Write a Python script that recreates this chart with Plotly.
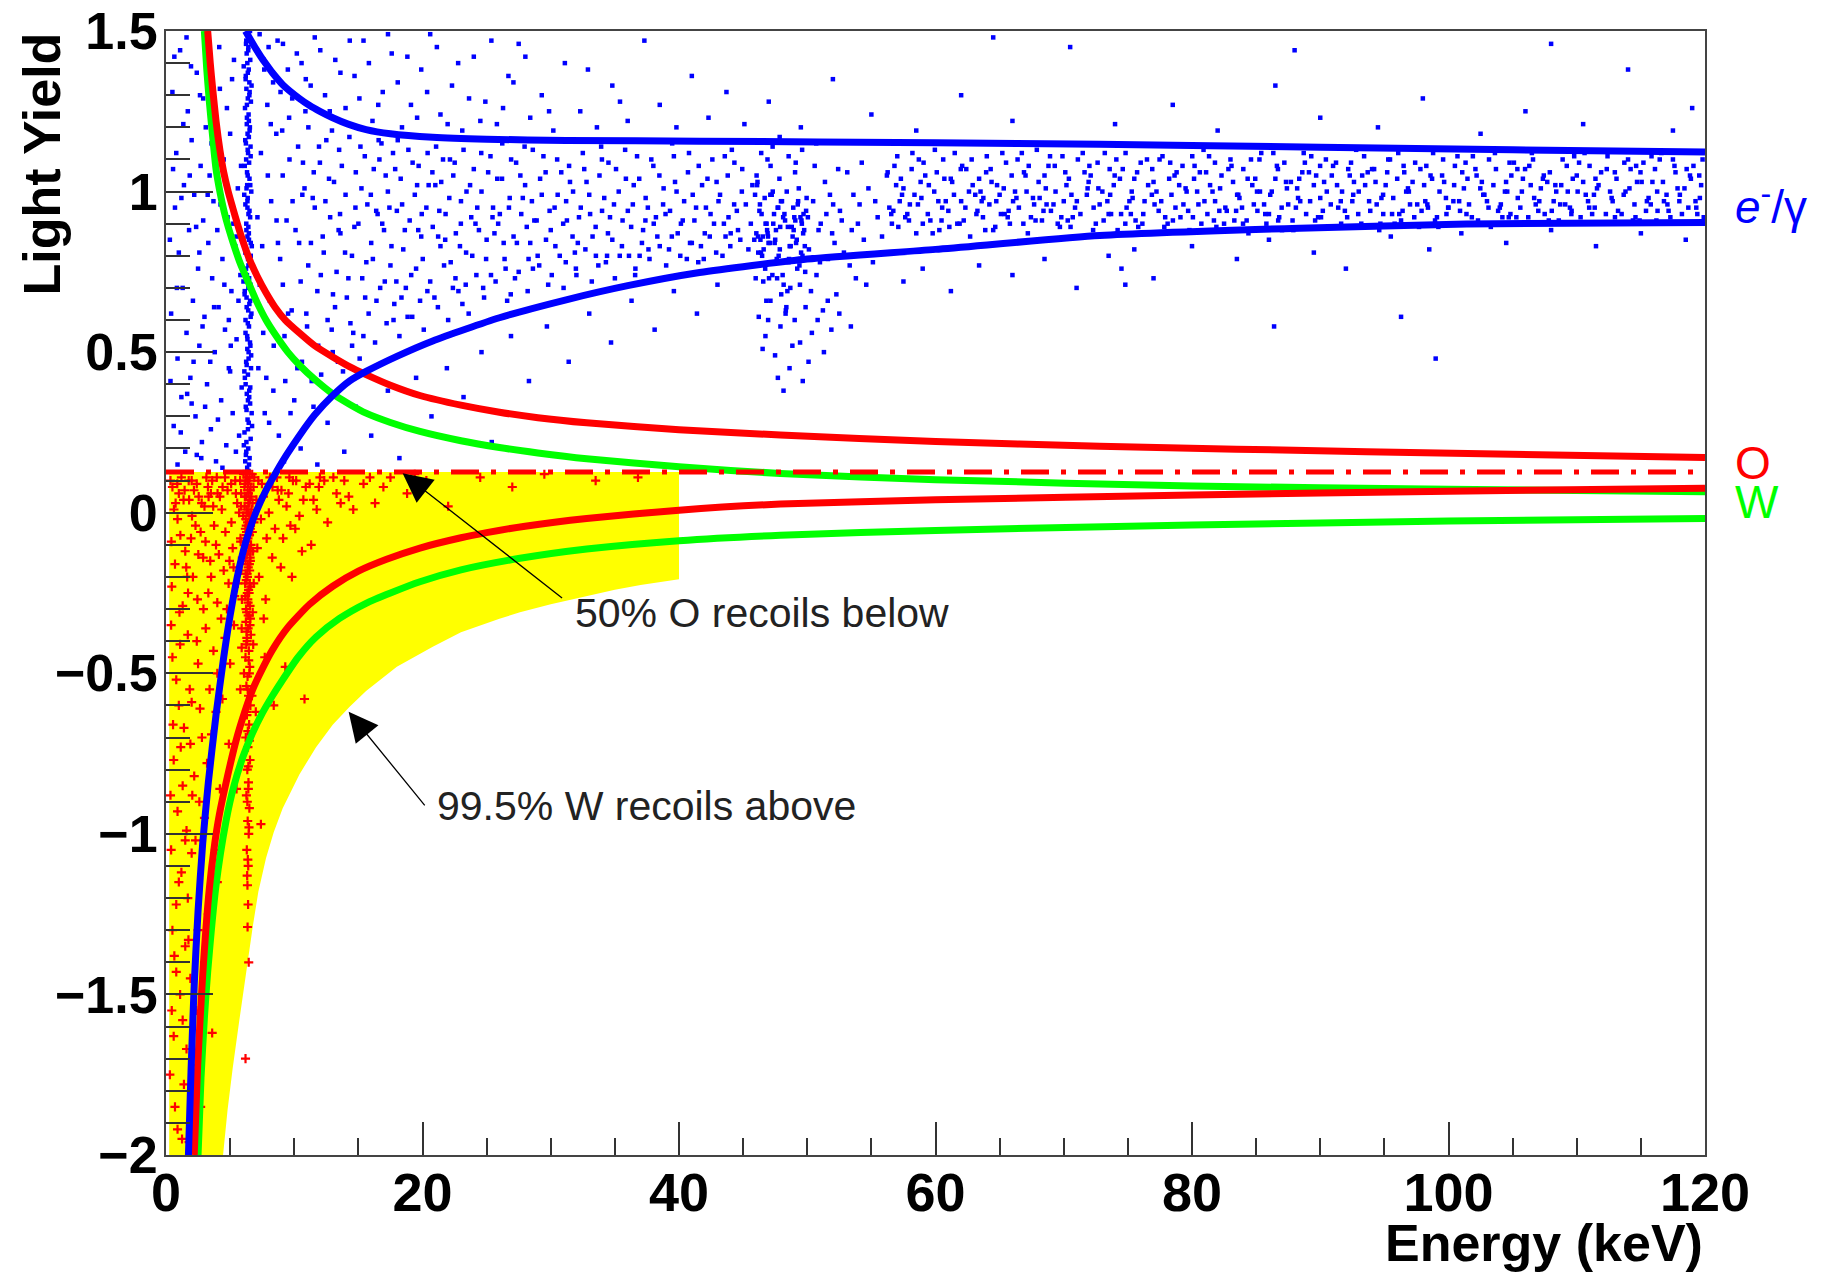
import plotly.graph_objects as go

# ---------------- data ----------------
X_RANGE = [0, 120]
Y_RANGE = [-2, 1.5]
CUT_Y = 0.127          # dash-dotted acceptance line

# e-/gamma band limits (blue)
EG_UP_X = [6.2, 6.6, 7.0, 7.4, 7.8, 8.3, 9.1, 10.4, 11.2, 12.0, 13.0, 14.2, 15.6, 17.5, 20.8, 25.0, 31.2, 41.6, 60.0, 72.8, 90.0, 105.0, 120.0]
EG_UP_Y = [1.50, 1.472, 1.445, 1.42, 1.397, 1.37, 1.333, 1.29, 1.268, 1.25, 1.23, 1.21, 1.193, 1.18, 1.169, 1.163, 1.159, 1.157, 1.152, 1.147, 1.138, 1.13, 1.123]
EG_LO_X = [1.75, 1.95, 2.2, 2.5, 2.86, 3.3, 3.9, 4.5, 5.0, 5.72, 6.3, 7.0, 7.8, 8.6, 9.4, 10.4, 11.6, 13.0, 14.3, 15.6, 18.0, 20.8, 26.0, 31.2, 36.0, 41.6, 50.0, 60.0, 72.8, 88.4, 101.4, 120.0]
EG_LO_Y = [-2.0, -1.74, -1.47, -1.24, -1.03, -0.84, -0.63, -0.45, -0.32, -0.17, -0.08, 0.0, 0.07, 0.127, 0.18, 0.24, 0.305, 0.365, 0.41, 0.44, 0.487, 0.535, 0.607, 0.663, 0.707, 0.748, 0.79, 0.82, 0.863, 0.886, 0.899, 0.904]

# O recoil band limits (red)
O_UP_X = [3.25, 3.45, 3.64, 3.9, 4.2, 4.5, 4.85, 5.2, 5.6, 6.0, 6.5, 7.1, 7.8, 8.5, 9.3, 10.4, 11.6, 13.0, 14.3, 15.6, 17.5, 19.8, 23.0, 26.0, 29.0, 32.8, 40.0, 47.9, 60.0, 72.8, 93.6, 120.0]
O_UP_Y = [1.5, 1.40, 1.32, 1.22, 1.13, 1.06, 1.0, 0.95, 0.895, 0.845, 0.79, 0.737, 0.685, 0.64, 0.6, 0.56, 0.52, 0.485, 0.455, 0.43, 0.397, 0.365, 0.335, 0.313, 0.296, 0.28, 0.258, 0.242, 0.222, 0.207, 0.19, 0.172]
O_LO_X = [2.2, 2.47, 2.86, 3.38, 3.8, 4.16, 4.8, 5.46, 6.1, 6.76, 7.5, 8.3, 9.5, 11.2, 13.0, 15.0, 17.2, 19.8, 23.0, 25.0, 28.0, 32.8, 40.0, 47.9, 60.0, 80.0, 100.0, 120.0]
O_LO_Y = [-2.0, -1.72, -1.44, -1.17, -1.03, -0.94, -0.82, -0.71, -0.625, -0.55, -0.487, -0.427, -0.357, -0.285, -0.229, -0.182, -0.145, -0.11, -0.078, -0.062, -0.042, -0.018, 0.008, 0.027, 0.04, 0.055, 0.067, 0.076]

# W recoil band limits (green)
W_UP_X = [2.99, 3.18, 3.38, 3.64, 3.9, 4.2, 4.55, 4.85, 5.2, 5.8, 6.5, 7.1, 7.8, 8.6, 9.5, 10.4, 11.6, 13.0, 14.3, 15.6, 17.5, 19.8, 23.0, 26.0, 29.0, 32.8, 40.0, 47.9, 60.0, 80.0, 100.0, 120.0]
W_UP_Y = [1.5, 1.38, 1.28, 1.17, 1.07, 1.0, 0.935, 0.89, 0.845, 0.775, 0.71, 0.655, 0.6, 0.55, 0.5, 0.46, 0.415, 0.37, 0.338, 0.31, 0.281, 0.253, 0.224, 0.203, 0.186, 0.168, 0.143, 0.122, 0.103, 0.083, 0.073, 0.065]
W_LO_X = [2.5, 2.73, 3.0, 3.25, 3.9, 4.68, 5.3, 6.0, 6.7, 7.5, 8.3, 9.1, 10.3, 11.7, 13.5, 15.6, 17.5, 19.8, 23.0, 27.6, 32.8, 40.0, 47.9, 60.0, 80.0, 100.0, 120.0]
W_LO_Y = [-2.0, -1.76, -1.57, -1.43, -1.16, -0.96, -0.85, -0.76, -0.69, -0.625, -0.57, -0.52, -0.45, -0.387, -0.33, -0.282, -0.25, -0.215, -0.178, -0.142, -0.113, -0.087, -0.07, -0.055, -0.038, -0.026, -0.018]

# yellow acceptance region: lower boundary (right to left)
ACC_X_LEFT = 0.25
ACC_X_RIGHT = 40.0
ACC_LO_X = [40.0, 37.0, 35.0, 32.8, 30.0, 27.6, 26.0, 23.0, 20.8, 18.0, 15.6, 14.3, 13.0, 11.7, 10.4, 9.1, 8.4, 7.8, 7.2, 6.76, 6.2, 5.72, 5.2, 4.8, 4.45]
ACC_LO_Y = [-0.207, -0.225, -0.24, -0.26, -0.285, -0.31, -0.33, -0.372, -0.417, -0.48, -0.555, -0.605, -0.66, -0.73, -0.815, -0.92, -0.995, -1.075, -1.18, -1.29, -1.44, -1.58, -1.73, -1.86, -2.0]

# ---------------- events (estimated by eye) ----------------
BLUE_LOWX = [(0.4,0.62),(0.5,1.31),(0.6,0.27),(0.7,0.95),(0.8,1.12),(0.9,0.48),(1.0,0.81),(1.1,1.44),(1.2,0.36),(1.3,0.7),
    (1.4,1.02),(1.5,0.19),(1.6,0.56),(1.7,1.25),(1.8,0.88),(1.9,0.42),(2.0,1.16),(2.1,0.66),(2.2,0.99),(2.3,0.3),
    (2.4,1.37),(2.5,0.76),(2.6,0.52),(2.7,1.08),(2.8,0.22),(2.9,0.91),(3.0,0.61),(3.1,1.2),(3.2,0.4),(3.3,0.84),
    (3.4,1.05),(3.5,0.26),(3.6,0.73),(3.7,0.97),(3.8,0.5),(3.9,0.16),(4.0,0.88),(4.1,0.64),(4.2,1.32),(4.3,0.35),
    (4.4,0.79),(4.5,1.1),(4.6,0.57),(4.7,0.21),(4.8,0.92),(4.9,0.45),(5.0,1.18),(5.1,0.69),(5.2,0.31),(5.3,1.41),
    (5.4,0.83),(5.5,0.54),(5.6,1.01),(5.7,0.24),(5.8,0.74),(5.9,0.39),(0.9,0.15),(1.6,1.48),(2.4,0.18),(3.3,1.46),
    (4.4,0.14),(5.0,0.44),(0.3,0.85),(2.0,0.34),(2.9,1.29),(3.8,1.23),(4.9,0.6),(5.5,0.86),(1.2,0.98),(2.6,0.81),
    (0.35,0.41),(0.55,1.07),(0.85,0.7),(1.15,0.25),(1.35,1.21),(1.65,0.37),(1.85,1.05),(2.15,0.47),(2.35,0.89),(2.65,1.3),
    (2.85,0.58),(3.05,0.33),(3.25,0.99),(3.55,1.15),(3.75,0.64),(4.05,0.29),(4.25,0.96),(4.55,0.71),(4.75,1.26),(5.05,0.52),
    (5.25,0.9),(5.45,0.19),(5.65,0.66),(5.85,1.08),(0.65,1.42),(1.95,1.39),(3.45,0.47),(4.15,1.45),(5.15,1.35),(2.75,0.17)]

BLUE_VBAND = [(6.33,0.14),(6.18,0.16),(6.52,0.17),(6.41,0.2),(6.27,0.22),(6.6,0.23),(6.12,0.25),(6.45,0.28),(6.36,0.29),(6.68,0.31),
    (6.22,0.33),(6.49,0.36),(6.3,0.37),(6.57,0.39),(6.15,0.42),(6.39,0.43),(6.63,0.45),(6.25,0.47),(6.44,0.5),(6.34,0.51),
    (6.55,0.53),(6.2,0.56),(6.47,0.58),(6.38,0.59),(6.66,0.62),(6.29,0.64),(6.5,0.65),(6.13,0.68),(6.42,0.7),(6.58,0.71),
    (6.31,0.74),(6.24,0.76),(6.53,0.78),(6.4,0.79),(6.17,0.82),(6.61,0.84),(6.35,0.86),(6.46,0.87),(6.26,0.9),(6.56,0.92),
    (6.43,0.93),(6.19,0.96),(6.37,0.98),(6.65,1.0),(6.28,1.01),(6.51,1.04),(6.32,1.06),(6.14,1.08),(6.48,1.09),(6.4,1.12),
    (6.59,1.14),(6.23,1.15),(6.36,1.18),(6.54,1.2),(6.3,1.21),(6.44,1.24),(6.16,1.26),(6.62,1.28),(6.38,1.29),(6.27,1.32),
    (6.5,1.34),(6.21,1.35),(6.45,1.38),(6.34,1.4),(6.57,1.41),(6.41,1.44),(6.24,1.46),(6.53,1.47),(6.36,1.49),
    (6.47,0.15),(6.26,0.19),(6.39,0.26),(6.56,0.34),(6.21,0.4),(6.44,0.48),(6.33,0.55),(6.6,0.61),(6.28,0.67),(6.48,0.73),
    (6.19,0.81),(6.42,0.89),(6.35,0.95),(6.57,1.02),(6.25,1.1),(6.46,1.17),(6.31,1.23),(6.52,1.31),(6.38,1.37),(6.29,1.43),
    (6.07,0.21),(6.71,0.27),(6.28,0.32),(6.49,0.38),(6.11,0.44),(6.64,0.49),(6.35,0.54),(6.2,0.6),(6.56,0.66),(6.04,0.72),
    (6.43,0.77),(6.69,0.83),(6.27,0.88),(6.51,0.94),(6.1,0.99),(6.37,1.05),(6.6,1.11),(6.18,1.16),(6.46,1.22),(6.31,1.27),
    (6.67,1.33),(6.06,1.39),(6.42,1.45),(6.55,1.5),(6.23,0.18),(6.39,0.35),(6.58,0.52),(6.14,0.69),(6.47,0.85),(6.33,1.02),
    (6.52,1.19),(6.22,1.36),(6.44,0.13),(6.29,0.46),(6.61,0.8),(6.37,1.13),(6.26,1.47),(6.41,0.63),(6.35,0.97),(6.5,1.3)]

BLUE_BAND_LOW = [(7.2,0.45),(7.4,1.12),(7.5,0.83),(7.7,0.31),(7.9,1.27),(8.1,0.66),(8.2,0.97),(8.4,0.52),(8.6,1.18),(8.8,0.24),
    (8.9,0.79),(9.1,1.05),(9.3,0.41),(9.4,0.91),(9.6,1.23),(9.8,0.63),(10.0,0.35),(10.1,0.88),(10.3,1.14),(10.5,0.72),
    (10.6,0.47),(10.8,1.01),(11.0,0.58),(11.1,1.2),(11.3,0.84),(11.5,0.33),(11.6,0.95),(11.8,0.69),(12.0,1.09),(12.1,0.43),
    (12.3,0.81),(12.5,1.16),(12.6,0.6),(12.8,0.92),(13.0,0.5),(13.1,1.03),(13.3,0.75),(13.5,1.13),(13.6,0.87),(13.8,0.44),
    (14.0,0.99),(14.1,0.67),(14.3,1.17),(14.5,0.8),(14.6,0.56),(14.8,1.06),(15.0,0.9),(15.1,0.48),(15.3,0.73),(15.5,1.11),
    (15.7,0.96),(15.8,0.62),(16.0,0.84),(16.2,1.07),(16.3,0.53),(16.5,0.93),(16.7,0.7),(16.8,1.15),(17.0,0.88),(17.2,0.59),
    (17.3,1.0),(17.5,0.77),(17.7,1.12),(17.8,0.65),(18.0,0.94),(18.2,0.55),(18.3,1.04),(18.5,0.82),(18.7,0.7),(18.9,1.13),
    (19.0,0.91),(19.2,0.61),(19.4,0.99),(19.5,0.76),(19.7,1.08),(19.9,0.86),(20.1,0.57),(20.3,0.95),(20.4,1.12),(20.6,0.72),
    (20.8,0.89),(21.0,1.02),(21.2,0.64),(21.4,0.83),(21.6,1.1),(21.8,0.93),(22.0,0.6),(22.2,0.78),(22.4,1.05),(22.6,0.87),
    (22.8,0.69),(23.0,0.97),(23.2,1.13),(23.4,0.81),(23.6,0.62),(23.8,0.92),(24.0,1.07),(24.2,0.74),(24.4,0.88),(24.6,1.0),
    (24.8,0.67),(25.0,0.85),(25.3,1.11),(25.5,0.95),(25.7,0.72),(25.9,0.9),(26.2,1.04),(26.4,0.79),(26.6,0.66),(26.8,0.98),
    (27.1,0.86),(27.3,1.09),(27.5,0.75),(27.7,0.93),(28.0,1.02),(28.2,0.69),(28.4,0.84),(28.6,1.13),(28.9,0.91),(29.1,0.77),
    (29.3,0.99),(29.6,1.06),(29.8,0.71),(30.0,0.88),(30.3,0.95),(30.5,1.1),(30.7,0.8),(31.0,0.7),(31.2,0.97),(31.5,1.03),
    (31.7,0.86),(32.0,0.74),(32.2,0.92),(32.5,1.12),(32.7,0.82),(33.0,0.99),(33.2,0.72),(33.5,0.89),(33.8,1.05),(34.0,0.94),
    (34.3,0.78),(34.5,1.09),(34.8,0.85),(35.0,0.73),(35.3,1.0),(35.6,0.91),(35.8,1.13),(36.1,0.8),(36.4,0.96),(36.6,0.76),
    (36.9,1.04),(37.2,0.88),(37.4,0.98),(37.7,0.79),(38.0,1.08),(38.2,0.92),(38.5,0.83),(38.8,1.01),(39.0,0.77),(39.3,0.94),
    (39.6,1.11),(39.9,0.87),(40.1,0.8),(40.4,0.97),(40.7,1.06),(41.0,0.84),(41.2,0.91),(41.5,0.78),(41.8,1.02),(42.1,0.95),
    (42.4,0.86),(42.6,1.1),(42.9,0.81),(43.2,0.99),(43.5,0.9),(43.8,1.05),(44.0,0.83),(44.3,0.96),(44.6,0.88),(44.9,1.0),
    (7.13,0.92),(7.58,0.56),(7.94,1.05),(8.37,0.38),(8.73,0.84),(9.06,1.19),(9.52,0.62),(9.87,0.97),(10.24,0.45),(10.68,1.09),
    (11.09,0.77),(11.44,0.98),(11.87,0.52),(12.22,0.86),(12.71,1.04),(13.18,0.64),(13.57,0.93),(13.96,0.81),(14.38,0.59),(14.77,0.95),
    (15.16,1.14),(15.62,0.78),(15.97,0.99),(16.41,0.66),(16.86,0.9),(17.13,1.05),(17.58,0.83),(17.96,0.72),(18.41,0.96),(18.84,0.61),
    (19.23,1.09),(19.67,0.88),(20.02,0.79),(20.48,1.02),(20.93,0.67),(21.31,0.94),(21.77,0.85),(22.14,1.1),(22.57,0.73),(22.99,0.9),
    (23.43,1.0),(23.88,0.8),(24.27,0.95),(24.73,0.7),(25.12,1.06),(25.61,0.87),(26.03,0.93),(26.48,0.76),(26.91,1.1),(27.36,0.84),
    (27.82,0.98),(28.27,0.79),(28.72,0.91),(29.17,1.04),(29.63,0.85),(30.08,0.74),(30.54,0.99),(30.97,0.9),(31.43,1.08),(31.88,0.81),
    (32.34,0.95),(32.79,1.03),(33.26,0.86),(33.71,0.77),(34.17,0.98),(34.62,0.92),(35.09,1.07),(35.55,0.83),(36.01,0.94),(36.47,1.02),
    (36.93,0.8),(37.38,0.91),(37.84,1.1),(38.31,0.86),(38.76,0.96),(39.22,0.82),(39.69,1.03),(40.15,0.9),(40.61,0.79),(41.07,0.99),
    (41.54,1.08),(42.01,0.87),(42.46,0.93),(42.93,1.03),(43.39,0.8),(43.86,0.92),(44.32,1.09),(44.78,0.85),(45.21,0.96),(45.6,0.9),
    (8.04,0.28),(9.71,0.31),(11.36,0.41),(13.41,0.47),(15.39,0.55),(17.74,0.6),(19.81,0.66),(22.37,0.7),(25.34,0.74),(28.61,0.76),
    (31.17,0.78),(34.39,0.8),(37.62,0.82),(40.86,0.84),(43.63,0.86),(12.94,1.19),(16.58,1.16),(21.06,1.14),(26.22,1.15),(33.93,1.14),
    (39.47,1.15),(44.12,1.13),(10.87,1.25),(8.93,1.31),(7.66,1.38),
    (7.31,0.71),(7.82,0.42),(8.17,1.21),(8.62,0.91),(9.24,0.55),(9.63,1.1),(10.38,0.84),(10.94,0.62),(11.52,1.06),(12.07,0.74),
    (12.43,0.97),(12.92,0.57),(13.46,0.88),(13.71,1.08),(14.22,0.73),(14.69,0.89),(15.24,1.01),(15.53,0.67),(16.13,0.79),(16.64,1.1),
    (17.06,0.72),(17.42,0.95),(17.87,1.07),(18.36,0.67),(18.62,0.88),(19.12,0.74),(19.58,1.02),(19.94,0.93),(20.38,0.69),(20.77,1.06),
    (21.22,0.86),(21.68,0.77),(22.09,0.98),(22.51,1.09),(22.92,0.83),(23.37,0.71),(23.71,1.02),(24.13,0.9),(24.58,1.12),(24.96,0.79),
    (25.46,0.92),(25.83,1.04),(26.33,0.84),(26.74,0.95),(27.21,0.73),(27.63,1.05),(28.13,0.89),(28.53,0.97),(28.98,0.8),(29.43,1.11),
    (29.91,0.94),(30.36,0.83),(30.82,1.06),(31.26,0.91),(31.74,1.0),(32.11,0.84),(32.61,1.07),(33.07,0.93),(33.52,0.8),(33.99,1.1),
    (34.46,0.87),(34.93,0.96),(35.38,0.8),(35.86,1.04),(36.27,0.89),(36.73,1.11),(37.11,0.84),(37.57,0.95),(38.03,0.9),(38.47,1.05),
    (38.95,0.93),(39.44,0.86),(39.81,1.0),(40.29,0.91),(40.78,1.12),(41.33,0.95),(41.71,0.83),(42.22,1.04),(42.73,0.9),(43.08,0.97),
    (43.57,1.11),(44.03,0.87),(44.51,0.94),(44.93,1.07),(45.41,0.82),(45.72,1.02),(11.93,1.14),(14.51,0.52),(18.07,1.16),(23.11,0.65),
    (27.96,1.14),(31.96,0.76),(36.58,0.74),(41.93,0.79),(9.11,0.71),(10.63,0.99),(13.02,0.68),(16.39,0.94),(21.46,1.03),(26.88,0.68)]

BLUE_CLUSTER = [(46.03,0.87),(47.62,0.79),(48.91,0.95),(46.57,0.72),(49.34,1.01),(47.08,0.84),(48.27,0.91),(46.81,0.66),(49.76,0.88),(47.95,0.97),
    (46.22,0.77),(48.63,0.83),(49.05,1.06),(47.41,0.93),(46.39,0.81),(48.08,0.74),(49.58,0.9),(47.23,0.99),(46.94,0.86),(48.45,0.69),
    (49.91,0.94),(47.77,0.8),(46.12,1.03),(48.79,0.89),(49.22,0.76),(47.5,0.85),(46.68,0.98),(48.16,0.71),(49.47,0.92),(47.86,0.82),
    (46.31,0.96),(48.54,0.78),(49.68,0.87),(47.14,1.08),(46.75,0.9),(48.37,0.64),(49.13,0.84),(47.69,0.95),(46.48,0.8),(48.99,0.92),
    (49.84,0.75),(47.31,1.0),(46.87,0.88),(48.71,0.83),(49.29,0.97),(47.02,0.73),(46.16,0.86),(48.22,0.93),(49.52,0.81),(47.89,0.89),
    (46.44,0.93),(47.97,0.68),(49.18,0.85),(46.09,1.02),(48.58,0.79),(47.35,0.9),(49.81,0.83),(46.72,0.76),(48.03,0.97),(47.56,0.88),
    (49.43,0.71),(46.27,0.94),(48.86,0.86),(47.12,0.99),(49.63,0.8),(46.91,0.87),(48.31,0.62),(47.74,0.95),(49.07,0.91),(46.6,0.82),
    (48.49,0.89),(47.28,0.74),(49.95,0.98),(46.35,0.85),(48.12,0.92),(47.83,1.04),(49.39,0.77),(46.83,0.9),(48.68,0.7),(47.46,0.84),
    (49.26,0.96),(46.18,0.81),(48.94,0.88),(47.65,0.73),(49.71,0.93),(46.53,0.86),(48.4,1.0),(47.19,0.78),(49.55,0.91),(46.98,0.84),
    (50.13,0.82),(50.46,0.97),(50.72,0.74),(51.05,0.9),(51.38,1.03),(51.61,0.79),(51.94,0.87),(52.27,0.68),(52.55,0.94),(52.86,0.81),
    (53.12,1.06),(53.47,0.88),(53.79,0.73),(54.08,0.96),(54.41,0.85),(54.77,1.01),(55.12,0.78),(55.49,0.92),(55.83,0.86),(56.21,1.05),
    (50.29,0.69),(50.88,0.88),(51.22,0.63),(51.77,0.99),(52.13,0.84),(52.69,0.91),(53.31,0.77),(53.95,0.9),(54.6,0.71),(55.3,0.97),
    (50.58,1.08),(51.49,0.93),(52.41,1.07),(53.6,0.99),(54.25,1.09),(56.55,0.93),(56.9,0.81),(50.05,0.92),(50.99,0.78),(52.02,0.96),
    (46.22,0.61),(46.74,0.55),(47.13,0.66),(47.49,0.49),(47.91,0.58),(48.33,0.63),(48.62,0.45),(49.02,0.6),(49.44,0.53),(49.87,0.64),
    (50.36,0.56),(50.81,0.6),(51.3,0.5),(51.88,0.57),(52.5,0.62),(53.4,0.58),(46.52,0.51),(47.71,0.42),(48.84,0.52),(50.1,0.47),
    (48.15,0.38),(49.65,0.41),(46.95,0.6),(51.6,0.66),
    (46.41,1.12),(47.3,1.14),(48.55,1.11),(49.6,1.13),(50.7,1.15),(47.85,1.17),(46.9,1.1),(49.1,1.09),(45.93,0.99),(45.87,0.85),
    (45.98,0.73),(46.05,1.05)]

BLUE_BAND_HIGH = [(56.4,0.95),(56.8,1.08),(57.1,0.89),(57.5,1.01),(57.8,0.93),(58.2,1.12),(58.5,0.87),(58.9,0.98),(59.2,1.05),(59.6,0.91),
    (59.9,1.0),(60.3,0.88),(60.6,1.1),(61.0,0.94),(61.3,1.03),(61.7,0.9),(62.0,0.97),(62.4,1.07),(62.7,0.86),(63.1,0.99),
    (63.4,1.04),(63.7,0.92),(64.0,1.11),(64.2,0.96),(64.5,0.88),(64.8,1.02),(65.1,0.93),(65.5,1.09),(65.8,0.9),(66.2,1.0),
    (66.5,0.95),(66.9,1.06),(67.2,0.87),(67.6,0.98),(67.9,1.13),(68.3,0.91),(68.6,1.01),(69.0,0.94),(69.3,1.08),(69.7,0.89),
    (70.0,0.97),(70.4,1.04),(70.7,0.92),(71.1,1.1),(71.4,0.86),(71.8,0.99),(72.1,1.05),(72.5,0.9),(72.8,0.96),(73.2,1.12),
    (73.5,0.93),(73.9,1.02),(74.2,0.88),(74.6,1.07),(74.9,0.95),(75.3,1.0),(75.6,0.91),(76.0,1.09),(76.3,0.97),(76.7,0.87),
    (77.0,1.03),(77.4,0.94),(77.7,1.11),(78.1,0.9),(78.4,0.99),(78.8,1.06),(79.1,0.92),(79.5,1.01),(79.8,0.88),(80.2,1.08),
    (80.5,0.96),(80.9,1.13),(81.2,0.93),(81.6,1.0),(81.9,0.89),(82.3,1.05),(82.6,0.95),(83.0,1.1),(83.3,0.91),(83.7,0.98),
    (84.0,1.07),(84.4,0.87),(84.7,1.02),(85.1,0.94),(85.4,1.12),(85.8,0.9),(86.1,0.99),(86.5,1.04),(86.8,0.92),(87.2,1.09),
    (87.5,0.96),(87.9,0.88),(88.2,1.01),(88.6,1.06),(88.9,0.93),(89.3,1.11),(89.6,0.91),(90.0,0.98),(90.3,1.03),(90.7,0.89),
    (91.0,1.08),(91.4,0.95),(91.7,1.0),(92.1,0.92),(92.3,1.05),(92.5,0.97),(92.8,1.13),(93.2,0.9),(93.5,1.02),(93.9,0.94),
    (94.2,1.07),(94.6,0.88),(94.9,0.99),(95.3,1.1),(95.6,0.93),(96.0,1.04),(96.3,0.91),(96.7,1.0),(97.0,0.96),(97.4,1.09),
    (97.7,0.89),(98.1,1.02),(98.4,0.95),(98.8,1.12),(99.1,0.92),(99.5,1.05),(99.8,0.98),(100.2,0.9),(100.5,1.08),(100.9,0.94),
    (101.2,1.01),(101.6,0.96),(101.9,1.11),(102.3,0.91),(102.6,1.03),(103.0,0.97),(103.3,0.89),(103.7,1.07),(104.0,0.95),(104.4,1.0),
    (104.7,0.92),(105.1,1.09),(105.4,0.98),(105.8,1.04),(106.1,0.9),(106.5,1.12),(106.8,0.96),(107.2,1.01),(107.5,0.93),(107.9,1.06),
    (108.2,0.97),(108.6,0.91),(108.9,1.1),(109.3,1.0),(109.6,0.94),(110.0,1.05),(110.3,0.92),(110.7,0.99),(111.0,1.08),(111.4,0.95),
    (111.7,1.02),(112.1,0.9),(112.4,1.11),(112.8,0.97),(113.1,1.04),(113.5,0.93),(113.8,1.0),(114.2,1.07),(114.5,0.96),(114.9,0.91),
    (115.2,1.09),(115.6,0.98),(115.9,1.03),(116.3,0.94),(116.6,1.12),(117.0,0.99),(117.3,0.92),(117.7,1.06),(118.0,0.97),(118.4,1.01),
    (118.7,0.95),(119.1,1.08),(119.4,0.93),(119.7,1.02),
    (56.6,0.9),(57.3,1.04),(58.0,0.96),(58.7,1.1),(59.4,0.93),(60.1,1.06),(60.8,0.97),(61.5,1.12),(62.2,0.91),(62.9,1.02),
    (63.6,0.97),(64.3,1.07),(65.0,0.99),(65.7,0.94),(66.4,1.1),(67.1,1.0),(67.8,0.91),(68.5,1.05),(69.2,0.96),(69.9,1.11),
    (70.6,0.99),(71.3,0.93),(72.0,1.08),(72.7,1.01),(73.4,0.97),(74.1,1.1),(74.8,0.9),(75.5,1.04),(76.2,0.93),(76.9,1.07),
    (77.6,0.97),(78.3,1.09),(79.0,1.02),(79.7,0.94),(80.4,1.0),(81.1,1.06),(81.8,0.97),(82.5,0.9),(83.2,1.03),(83.9,0.95),
    (84.6,1.1),(85.3,1.0),(86.0,0.93),(86.7,1.07),(87.4,1.01),(88.1,0.95),(88.8,1.09),(89.5,1.02),(90.2,0.94),(90.9,1.05),
    (91.6,0.97),(92.4,1.09),(93.0,1.0),(93.7,1.06),(94.4,0.96),(95.1,1.02),(95.8,0.9),(96.5,1.08),(97.2,1.03),(97.9,0.94),
    (98.6,1.05),(99.3,1.0),(100.0,0.95),(100.7,1.11),(101.4,0.93),(102.1,1.07),(102.8,0.99),(103.5,1.02),(104.2,0.92),(104.9,1.05),
    (105.6,0.95),(106.3,1.08),(107.0,0.94),(107.7,1.03),(108.4,1.0),(109.1,0.96),(109.8,1.11),(110.5,1.03),(111.2,0.93),(111.9,1.06),
    (112.6,1.0),(113.3,0.9),(114.0,1.1),(114.7,1.03),(115.4,0.94),(116.1,1.07),(116.8,0.97),(117.5,1.1),(118.2,0.93),(118.9,1.04),(119.6,0.98),
    (56.93,1.02),(57.64,0.92),(58.36,0.99),(59.07,1.09),(59.78,0.87),(60.52,0.95),(61.19,1.04),(61.88,0.9),(62.61,1.0),(63.27,0.94),
    (63.95,1.06),(64.66,0.89),(65.32,1.01),(66.05,0.97),(66.73,1.12),(67.44,0.92),(68.12,0.98),(68.81,1.08),(69.53,0.9),(70.21,1.02),
    (70.88,0.95),(71.62,1.06),(72.29,0.88),(73.01,1.0),(73.69,0.93),(74.38,1.04),(75.12,0.97),(75.81,0.89),(76.49,1.1),(77.23,1.0),
    (77.91,0.92),(78.64,1.05),(79.33,0.96),(80.02,1.11),(80.73,0.9),(81.41,1.02),(82.13,0.94),(82.84,1.07),(83.52,0.99),(84.26,0.91),
    (84.93,1.04),(85.62,0.96),(86.34,1.12),(87.02,0.88),(87.71,1.03),(88.44,0.97),(89.12,1.06),(89.83,0.92),(90.51,1.0),(91.23,1.09),
    (91.92,0.94),(92.63,1.03),(93.36,0.89),(94.04,1.07),(94.77,0.98),(95.44,1.1),(96.16,0.93),(96.84,1.01),(97.56,0.96),(98.27,1.08),
    (98.95,0.91),(99.66,1.03),(100.38,0.97),(101.07,1.06),(101.75,0.9),(102.48,1.01),(103.16,1.1),(103.87,0.94),(104.58,1.0),(105.29,0.92),
    (105.97,1.07),(106.68,0.98),(107.36,1.04),(108.07,0.9),(108.79,1.02),(109.47,0.95),(110.18,1.09),(110.88,0.97),(111.58,1.01),(112.27,0.93),
    (112.97,1.06),(113.66,0.99),(114.38,0.91),(115.06,1.03),(115.77,0.96),(116.47,1.1),(117.16,0.94),(117.86,1.01),(118.57,1.07),(119.26,0.97),
    (57.21,0.97),(58.84,1.03),(60.47,0.91),(62.08,1.08),(63.73,0.98),(65.39,0.93),(67.02,1.05),(68.66,0.96),(70.31,0.91),(71.94,1.03),
    (73.58,1.07),(75.23,0.93),(76.87,0.99),(78.51,0.91),(80.16,1.04),(81.79,1.09),(83.44,0.94),(85.07,1.0),(86.72,0.91),(88.36,1.04),
    (89.99,1.08),(91.63,0.9),(93.27,1.05),(94.91,0.93),(96.55,1.06),(98.19,0.97),(99.84,0.93),(101.48,1.04),(103.12,0.95),(104.76,1.09),
    (106.41,1.02),(108.05,0.94),(109.69,1.04),(111.34,0.99),(112.98,0.92),(114.63,1.08),(116.27,1.0),(117.91,0.9),(119.55,1.05),
    (56.27,1.06),(56.71,0.94),(57.02,1.11),(57.39,0.99),(57.93,0.91),(58.14,1.07),(58.63,0.96),(59.01,0.9),(59.48,1.02),(59.95,1.13),
    (60.22,0.97),(60.69,1.04),(61.08,0.89),(61.44,0.99),(61.97,1.07),(62.33,0.95),(62.82,1.1),(63.19,0.93),(63.51,1.0),(63.88,0.88),
    (64.37,1.03),(64.74,0.97),(65.21,1.12),(65.63,0.92),(65.94,1.05),(66.31,0.98),(66.85,0.9),(67.27,1.08),(67.69,0.96),(68.04,1.03),
    (68.42,0.94),(68.93,1.11),(69.36,1.0),(69.81,0.92),(70.12,1.06),(70.53,0.89),(71.02,0.97),(71.48,1.12),(71.86,1.01),(72.33,0.95),
    (72.64,1.09),(73.11,0.91),(73.62,0.99),(73.97,1.05),(74.47,0.93),(74.82,1.12),(75.37,0.98),(75.72,1.06),(76.13,0.9),(76.58,1.02),
    (77.08,0.96),(77.47,1.1),(77.84,0.89),(78.22,1.04),(78.71,0.95),(79.26,1.08),(79.58,1.0),(80.07,0.92),(80.61,1.06),(80.97,0.97),
    (81.33,1.11),(81.71,0.91),(82.19,1.01),(82.71,0.94),(83.08,1.08),(83.61,0.99),(83.98,0.9),(84.34,1.04),(84.82,0.96),(85.26,1.1),
    (85.71,0.93),(86.22,1.0),(86.62,1.08),(86.99,0.95),(87.33,1.03),(87.84,0.91),(88.27,0.98),(88.71,1.12),(89.21,0.97),(89.68,1.05),
    (90.06,0.92),(90.44,1.1),(90.82,0.96),(91.31,1.02),(91.78,0.89),(92.18,1.07),(92.57,0.99),(92.96,0.93),(93.42,1.11),(93.81,0.97),
    (94.31,1.03),(94.69,0.9),(95.22,1.06),(95.69,0.98),(96.08,1.12),(96.42,0.94),(96.91,1.0),(97.33,0.92),(97.81,1.07),(98.35,0.96),
    (98.72,1.04),(99.21,0.89),(99.58,1.1),(99.97,0.95),(100.44,1.02),(100.83,0.97),(101.33,1.09),(101.82,0.92),(102.19,1.05),(102.71,0.99),
    (103.24,0.9),(103.62,1.12),(104.08,0.96),(104.49,1.03),(104.83,0.93),(105.37,1.07),(105.72,1.0),(106.22,0.92),(106.59,1.1),(107.08,0.97),
    (107.43,1.05),(107.82,0.91),(108.33,1.02),(108.71,0.96),(109.22,1.08),(109.58,0.93),(110.07,1.0),(110.61,1.12),(110.97,0.95),(111.46,1.04),
    (111.83,0.9),(112.34,1.07),(112.72,0.98),(113.22,0.94),(113.71,1.09),(114.11,1.01),(114.58,0.92),(114.97,1.06),(115.47,0.97),(115.83,1.11),
    (116.21,0.91),(116.72,1.03),(117.07,0.96),(117.62,1.08),(118.04,0.99),(118.47,0.9),(118.83,1.05),(119.32,0.95),(119.81,1.1),(119.9,0.92)]

BLUE_ABOVE = [(7.3,1.49),(8.0,1.45),(8.7,1.47),(9.5,1.38),(10.2,1.43),(10.9,1.35),(11.6,1.48),(12.4,1.3),(13.2,1.41),(14.0,1.26),
    (14.7,1.36),(15.4,1.47),(16.1,1.22),(16.9,1.31),(17.6,1.43),(18.4,1.2),(19.1,1.27),(19.9,1.38),(20.6,1.49),(21.4,1.24),
    (22.3,1.33),(23.1,1.19),(24.0,1.42),(24.9,1.28),(25.8,1.21),(26.7,1.36),(27.5,1.46),(28.4,1.23),(29.3,1.3),(30.2,1.19),
    (31.1,1.4),(32.3,1.25),(33.6,1.2),(34.8,1.33),(36.0,1.22),(37.3,1.47),(38.5,1.27),(39.8,1.2),(41.0,1.36),(42.3,1.23),
    (43.7,1.31),(45.1,1.21),(47.0,1.28),(49.5,1.2),(52.0,1.35),(55.0,1.24),(58.5,1.19),(62.0,1.3),(66.0,1.22),(70.5,1.45),
    (74.0,1.21),(78.5,1.27),(82.0,1.19),(86.5,1.33),(90.0,1.23),(94.5,1.2),(98.0,1.29),(102.5,1.18),(106.0,1.25),(110.5,1.21),
    (114.0,1.38),(117.5,1.19),(119.0,1.26),(64.5,1.48),(88.0,1.44),(108.0,1.46),
    (7.62,1.41),(8.35,1.34),(9.12,1.46),(9.84,1.29),(10.57,1.4),(11.28,1.33),(12.03,1.44),(12.77,1.25),(13.6,1.37),(14.33,1.47),
    (15.08,1.29),(15.82,1.4),(16.55,1.27),(17.31,1.49),(18.07,1.34),(18.82,1.42),(19.58,1.23),(20.36,1.31),(21.12,1.45),(21.96,1.21),
    (22.78,1.4),(23.63,1.29),(24.51,1.22),(25.37,1.47),(26.28,1.26),(27.09,1.34),(28.02,1.42),(29.87,1.25),(32.9,1.38),(35.4,1.28)]

BLUE_BELOW = [(9.2,0.16),(10.5,0.2),(11.8,0.15),(12.6,0.28),(13.9,0.19),(14.8,0.33),(16.0,0.24),(17.3,0.38),(18.2,0.17),(19.5,0.42),
    (20.7,0.3),(21.9,0.45),(23.2,0.36),(24.6,0.5),(25.4,0.22),(26.9,0.55),(28.3,0.41),(29.7,0.58),(31.4,0.47),(33.0,0.62),
    (34.7,0.53),(36.3,0.66),(38.1,0.57),(39.6,0.69),(41.4,0.62),(43.0,0.71),(57.5,0.72),(59.0,0.76),(61.2,0.69),(63.4,0.77),
    (66.0,0.74),(68.5,0.79),(71.0,0.7),(73.5,0.8),(74.5,0.76),(75.5,0.82),(77.0,0.73),(80.0,0.83),(83.5,0.79),(86.0,0.85),
    (89.5,0.81),(92.0,0.76),(95.5,0.86),(98.5,0.82),(101.0,0.87),(104.5,0.84),(108.0,0.88),(111.5,0.83),(115.0,0.87),(118.5,0.85),
    (86.4,0.58),(96.3,0.61),(99.0,0.48),(74.8,0.71)]

RED_VBAND = [(6.31,0.11),(6.48,0.1),(6.19,0.09),(6.6,0.08),(6.37,0.07),(6.25,0.05),(6.54,0.04),(6.42,0.03),(6.13,0.02),(6.66,0.01),
    (6.33,0.0),(6.5,-0.01),(6.22,-0.02),(6.45,-0.04),(6.58,-0.05),(6.28,-0.06),(6.39,-0.08),(6.16,-0.09),(6.63,-0.1),(6.47,-0.11),
    (6.3,-0.13),(6.56,-0.14),(6.2,-0.15),(6.41,-0.17),(6.52,-0.18),(6.35,-0.2),(6.26,-0.21),(6.6,-0.23),(6.44,-0.24),(6.18,-0.26),
    (6.38,-0.27),(6.55,-0.29),(6.29,-0.31),(6.49,-0.32),(6.23,-0.34),(6.4,-0.36),(6.62,-0.38),(6.33,-0.4),(6.46,-0.43),(6.2,-0.45),
    (6.53,-0.48),(6.36,-0.51),(6.27,-0.54),(6.44,-0.57),(6.58,-0.6),(6.31,-0.63),(6.48,-0.66),(6.22,-0.7),(6.39,-0.73),(6.55,-0.77),
    (6.34,-0.8),(6.43,-0.84),(6.27,-0.88),(6.5,-0.92),(6.37,-0.96),(6.45,-1.0),(6.3,-1.05),(6.41,-1.1),(6.35,-1.16),(6.4,-1.22),
    (6.25,0.12),(6.43,0.06),(6.57,-0.03),(6.24,-0.07),(6.5,-0.16),(6.34,-0.25),(6.58,-0.33),(6.26,-0.41),(6.5,-0.5),(6.38,-0.68),
    (6.42,-0.86),(6.36,-1.29),(6.45,-1.4),(6.33,-1.13),
    (6.21,0.1),(6.39,0.09),(6.56,0.07),(6.15,0.05),(6.46,0.03),(6.29,0.01),(6.62,-0.01),(6.36,-0.03),(6.19,-0.05),(6.51,-0.07),
    (6.27,-0.09),(6.43,-0.12),(6.58,-0.15),(6.33,-0.19),(6.17,-0.22),(6.48,-0.25),(6.4,-0.28),(6.24,-0.3),(6.55,-0.35),(6.3,-0.39),
    (6.45,-0.46),(6.37,-0.55),(6.29,-0.62),(6.5,-0.71),(6.42,-0.79),(6.34,-0.9),(6.47,-0.98),(6.38,-1.08),(6.32,0.12),(6.52,0.11),
    (6.12,0.08),(6.66,0.05),(6.44,0.0),(6.26,-0.04),(6.6,-0.12),(6.36,-0.16),(6.21,-0.19),(6.53,-0.22),(6.41,-0.32),(6.28,-0.37),
    (5.78,0.1),(6.82,0.08),(5.85,0.02),(6.86,-0.03),(5.81,-0.08),(6.79,-0.12),(5.88,-0.18),(6.84,-0.22),(5.92,-0.27),(6.76,-0.31),
    (5.86,0.06),(6.88,0.11),(5.95,-0.14),(6.73,-0.06),(5.9,-0.36),(6.8,-0.41),(6.05,0.12),(6.72,0.12),(6.08,-0.5),(6.7,-0.57),
    (6.02,-0.01),(6.75,0.03)]

RED_SCATTER = [(0.5,0.08),(0.9,-0.02),(1.2,0.11),(1.5,-0.12),(1.8,0.04),(2.1,-0.2),(2.4,0.09),(2.7,-0.06),(3.0,0.02),(3.3,-0.25),
    (3.6,0.1),(3.9,-0.1),(4.2,0.05),(4.5,-0.18),(4.8,0.07),(5.1,-0.03),(5.4,0.1),(5.7,0.0),(7.2,0.1),(7.6,0.05),
    (8.1,0.11),(8.5,-0.05),(9.0,0.07),(9.4,0.02),(9.9,0.1),(10.4,-0.01),(10.9,0.08),(11.5,0.04),(12.0,0.11),(12.6,-0.03),
    (13.3,0.06),(13.9,0.1),(14.6,0.01),(15.4,0.09),(16.3,0.03),(17.5,0.11),(18.8,0.06),(20.3,0.1),(22.0,0.02),(24.5,0.11),
    (27.0,0.08),(29.5,0.12),(33.5,0.1),(36.8,0.11),(1.0,0.06),(2.0,0.1),(2.9,-0.14),(3.5,0.06),(4.0,-0.28),(4.6,0.11),
    (5.2,-0.11),(7.4,-0.02),(8.3,0.08),(9.7,-0.04),(11.2,0.09),(0.7,-0.16),(1.3,-0.29),(2.3,-0.04),(5.6,-0.22),(8.8,0.04),
    (0.4,-0.35),(0.8,-0.52),(1.1,-0.41),(1.4,-0.67),(1.7,-0.38),(2.0,-0.59),(2.2,-0.82),(2.5,-0.47),(2.8,-0.7),(3.1,-0.36),
    (3.4,-0.55),(3.7,-0.43),(4.0,-0.5),(4.3,-0.33),(4.6,-0.39),(5.0,-0.47),(5.3,-0.35),(5.8,-0.55),(7.0,-0.62),(7.7,-0.45),
    (8.4,-0.6),(9.3,-0.48),(10.8,-0.58),(0.6,-0.77),(0.9,-0.93),(1.3,-0.85),(1.6,-0.99),(1.9,-0.72),(2.6,-0.9),(3.2,-0.78),
    (3.9,-0.62),(4.9,-0.72),(5.5,-0.86),(7.4,-0.97),(1.0,-0.6),(2.4,-0.4),(3.0,-0.95),(0.5,-0.45),(5.9,-0.42),(4.4,-0.58),
    (0.4,-1.05),(0.8,-1.22),(1.2,-1.12),(1.5,-1.35),(1.1,-1.5),(0.6,-1.63),(1.4,-1.78),(0.9,-1.92),(1.7,-1.2),(2.0,-1.06),
    (0.5,-1.3),(1.3,-1.58),(0.7,-1.85),(1.9,-1.45),(2.3,-1.02),(3.0,-1.4),(3.6,-1.62),(2.7,-1.85),(4.0,-1.15),(0.3,-1.75),
    (1.6,-1.67),(0.8,-1.43),(2.1,-1.72),(1.0,-1.15),(6.2,-1.7),(2.5,-1.3),(1.8,-1.96),(3.3,-1.25),
    (0.35,0.1),(0.75,0.03),(1.45,0.07),(1.95,-0.08),(2.55,0.05),(3.15,0.11),(3.75,-0.04),(4.35,0.01),(4.95,-0.15),(5.45,0.06),
    (7.05,0.04),(7.85,-0.08),(8.65,0.11),(9.55,0.06),(10.15,0.1),(11.75,0.01),(13.05,0.11),(14.25,0.05),(16.95,0.08),(19.4,0.12),
    (0.45,-0.23),(1.05,-0.31),(1.65,-0.2),(2.45,-0.27),(3.45,-0.15),(4.75,-0.3),(5.35,-0.26),(7.25,-0.2),(8.95,-0.17),(10.6,-0.12),
    (0.55,-0.66),(1.15,-0.73),(1.85,-0.55),(2.65,-0.61),(3.55,-0.69),(0.35,-0.88),(1.5,-1.02),(2.05,-0.88),(0.65,-1.38),(1.25,-1.95),
    (2.35,-1.55),(0.45,-1.55),(3.85,-1.05),(1.75,-1.33),(4.2,-0.86),
    (0.62,0.01),(0.88,0.09),(1.12,-0.07),(1.37,0.04),(1.58,-0.17),(1.77,0.1),(2.03,-0.01),(2.18,0.07),(2.52,-0.13),(2.78,0.03),
    (3.08,-0.09),(3.27,0.08),(3.52,-0.2),(3.68,0.02),(3.96,0.11),(4.12,-0.13),(4.41,0.08),(4.63,-0.06),(4.88,-0.22),(5.08,0.09),
    (5.27,-0.17),(5.55,0.03),(7.12,-0.11),(7.48,0.09),(7.77,-0.27),(8.02,0.0),(8.28,-0.14),(8.71,0.07),(9.13,-0.08),(9.62,0.11),
    (10.08,-0.05),(10.71,0.04),(11.32,-0.1),(11.92,0.08),(12.34,0.1),(13.62,0.03),(15.9,0.11),(7.62,-0.33),(9.82,-0.2),(0.42,-0.09),
    (2.92,-0.3),(4.02,0.06),(5.82,-0.09),(1.72,-0.25),(3.32,0.05)]

# annotations: (text, text-left x, text y, arrow head x, head y, tail x, tail y)
NOTE_O = ("50% O recoils below", 31.7, -0.313, 18.45, 0.123, 31.0, -0.269)
NOTE_W = ("99.5% W recoils above", 21.0, -0.914, 14.24, -0.62, 20.27, -0.916)

# ---------------- styling ----------------
BLUE, RED, GREEN, YELLOW = "#0000ff", "#ff0000", "#00ff00", "#ffff00"
FONT = "Liberation Sans, Arial, Helvetica, sans-serif"

fig = go.Figure()

# yellow acceptance region
poly_x = [ACC_X_LEFT, ACC_X_RIGHT] + ACC_LO_X + [ACC_X_LEFT, ACC_X_LEFT]
poly_y = [CUT_Y, CUT_Y] + ACC_LO_Y + [Y_RANGE[0], CUT_Y]
fig.add_trace(go.Scatter(x=poly_x, y=poly_y, mode="lines", fill="toself",
                         fillcolor=YELLOW, line=dict(width=0, color=YELLOW), hoverinfo="skip"))

def pts(lst):
    return [p[0] for p in lst], [p[1] for p in lst]

for grp in (BLUE_LOWX, BLUE_BAND_LOW, BLUE_CLUSTER, BLUE_BAND_HIGH, BLUE_ABOVE, BLUE_BELOW, BLUE_VBAND):
    gx, gy = pts(grp)
    fig.add_trace(go.Scatter(x=gx, y=gy, mode="markers",
                             marker=dict(symbol="square", size=4.5, color=BLUE, line=dict(width=0))))

for grp in (RED_SCATTER, RED_VBAND):
    gx, gy = pts(grp)
    fig.add_trace(go.Scatter(x=gx, y=gy, mode="markers",
                             marker=dict(symbol="cross-thin", size=6.5, color=RED, line=dict(width=2.2, color=RED))))

LW = 7
for cx, cy, col in ((W_UP_X, W_UP_Y, GREEN), (W_LO_X, W_LO_Y, GREEN),
                    (O_UP_X, O_UP_Y, RED), (O_LO_X, O_LO_Y, RED),
                    (EG_UP_X, EG_UP_Y, BLUE), (EG_LO_X, EG_LO_Y, BLUE)):
    fig.add_trace(go.Scatter(x=cx, y=cy, mode="lines",
                             line=dict(color=col, width=LW, shape="spline", smoothing=0.6)))

# dash-dotted cut line
fig.add_trace(go.Scatter(x=X_RANGE, y=[CUT_Y, CUT_Y], mode="lines",
                         line=dict(color=RED, width=5, dash="28px,12px,5px,12px")))

ann = []
for note in (NOTE_O, NOTE_W):
    txt, tx, ty, hx, hy, sx, sy = note
    ann.append(dict(x=tx, y=ty, xref="x", yref="y", text=txt, showarrow=False,
                    xanchor="left", yanchor="middle",
                    font=dict(family=FONT, size=41, color="#222222")))
    ann.append(dict(x=hx, y=hy, ax=sx, ay=sy, xref="x", yref="y", axref="x", ayref="y",
                    text="", showarrow=True, arrowhead=2, arrowsize=4.5, arrowwidth=1.3,
                    arrowcolor="black", standoff=0, startstandoff=0))

# band labels on the right
ann.append(dict(x=1.018, y=0.96, xref="paper", yref="y", text="<i>e</i><sup>-</sup>/γ",
                showarrow=False, xanchor="left", yanchor="middle",
                font=dict(family=FONT, size=46, color=BLUE)))
ann.append(dict(x=1.018, y=0.155, xref="paper", yref="y", text="O",
                showarrow=False, xanchor="left", yanchor="middle",
                font=dict(family=FONT, size=46, color=RED)))
ann.append(dict(x=1.018, y=0.033, xref="paper", yref="y", text="W",
                showarrow=False, xanchor="left", yanchor="middle",
                font=dict(family=FONT, size=46, color=GREEN)))

# axis titles (ROOT style: right / top aligned)
ann.append(dict(x=1.0, y=-0.0785, xref="paper", yref="paper", text="Energy (keV)",
                showarrow=False, xanchor="right", yanchor="middle",
                font=dict(family=FONT, size=52, color="black", weight="bold")))
ann.append(dict(x=-0.0812, y=1.0, xref="paper", yref="paper", text="Light Yield",
                showarrow=False, xanchor="center", yanchor="top", textangle=-90,
                font=dict(family=FONT, size=52, color="black", weight="bold")))

axis_common = dict(showgrid=False, zeroline=False, showline=True, linecolor="#444444", linewidth=2,
                   mirror=True, ticks="inside", tickcolor="#333333", tickwidth=2, automargin=False,
                   ticklabeloverflow="allow")

fig.update_layout(
    width=1824, height=1272, autosize=False,
    margin=dict(l=166, r=119, t=31, b=117),
    paper_bgcolor="white", plot_bgcolor="white",
    showlegend=False,
    annotations=ann,
    xaxis=dict(range=X_RANGE, tick0=0, dtick=20, ticklen=33, ticklabelstandoff=-11,
               tickfont=dict(family=FONT, size=54, color="black", weight="bold"),
               minor=dict(dtick=5, ticklen=17, ticks="inside", tickcolor="#333333", tickwidth=2),
               **axis_common),
    yaxis=dict(range=Y_RANGE, tick0=0, dtick=0.5, ticklen=47, ticklabelstandoff=-4,
               tickfont=dict(family=FONT, size=52, color="black", weight="bold"),
               minor=dict(dtick=0.1, ticklen=24, ticks="inside", tickcolor="#333333", tickwidth=2),
               **axis_common),
)

# remove the default 8px page margin so the figure fills the window exactly; no mode bar
fig.write_html("out.html", config={"displayModeBar": False},
               post_script="document.body.style.margin='0px';")
